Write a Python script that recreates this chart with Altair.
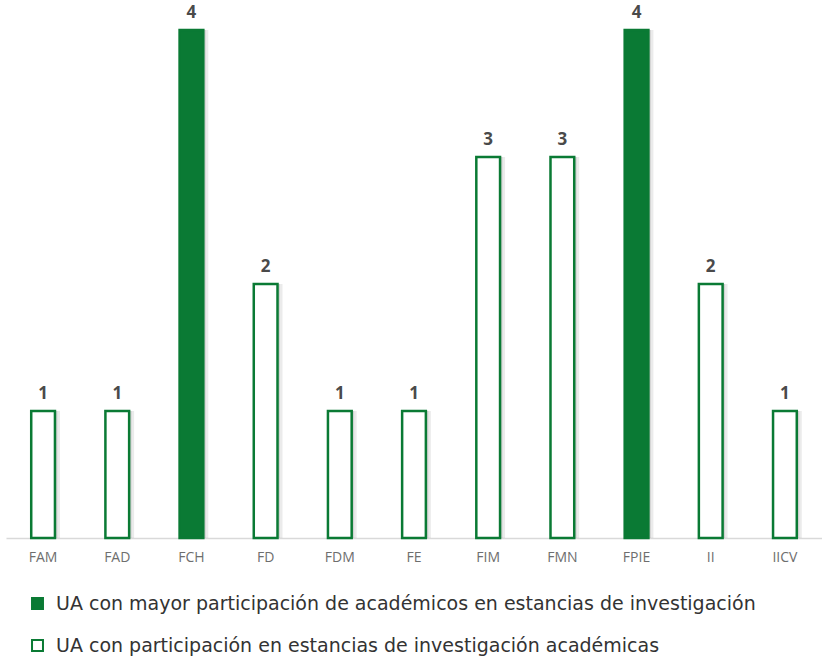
import altair as alt
import pandas as pd

# Academic units and number of academics in research stays
unidades = ["FAM", "FAD", "FCH", "FD", "FDM", "FE", "FIM", "FMN", "FPIE", "II", "IICV"]
valores = [1, 1, 4, 2, 1, 1, 3, 3, 4, 2, 1]
mayor = ["FCH", "FPIE"]

serie_mayor = "UA con mayor participación de académicos en estancias de investigación"
serie_part = "UA con participación en estancias de investigación académicas"

df = pd.DataFrame({
    "UA": unidades,
    "valor": valores,
    "serie": [serie_mayor if u in mayor else serie_part for u in unidades],
})

VERDE = "#0a7a34"

x = alt.X("UA:N", sort=unidades, title=None,
          scale=alt.Scale(paddingInner=0.68, paddingOuter=0.34),
          axis=alt.Axis(labelAngle=0, ticks=False, domainColor="#d9d9d9",
                        domainWidth=1.5, labelColor="#6e6e6e", labelFontSize=14,
                        labelFont="Open Sans", labelPadding=12, grid=False))
y = alt.Y("valor:Q", title=None, scale=alt.Scale(domain=[0, 4], nice=False),
          axis=None)

base = alt.Chart(df)

# soft drop shadow to the right of each bar
sombra_a = base.mark_bar(color="#000000", opacity=0.08, xOffset=5).encode(x=x, y=y)
sombra_b = base.mark_bar(color="#000000", opacity=0.10, xOffset=2.5).encode(x=x, y=y)

barras = base.mark_bar(stroke=VERDE, strokeWidth=2.5).encode(
    x=x,
    y=y,
    fill=alt.Fill("serie:N", title=None,
                  scale=alt.Scale(domain=[serie_mayor, serie_part],
                                  range=[VERDE, "#ffffff"]),
                  legend=alt.Legend(orient="none", legendX=22, legendY=564,
                                    symbolType="square", symbolSize=120,
                                    symbolStrokeColor=VERDE, symbolStrokeWidth=2,
                                    labelFontSize=19, labelFont="DejaVu Sans",
                                    labelColor="#333333", labelLimit=800,
                                    rowPadding=22, labelOffset=9)),
)

etiquetas = base.mark_text(baseline="alphabetic", dy=-12, fontSize=17,
                           fontWeight="bold", color="#4a4a4a",
                           font="Open Sans").encode(x=x, y=y, text="valor:Q")

chart = alt.layer(sombra_a, sombra_b, barras, etiquetas).properties(
    width=816, height=508,
    background="white",
    autosize=alt.AutoSizeParams(type="none"),
    padding={"left": 6, "top": 30, "right": 0, "bottom": 124},
).configure_view(strokeWidth=0, stroke=None)

chart.save("out.html", embed_options={"renderer": "svg", "actions": False})
